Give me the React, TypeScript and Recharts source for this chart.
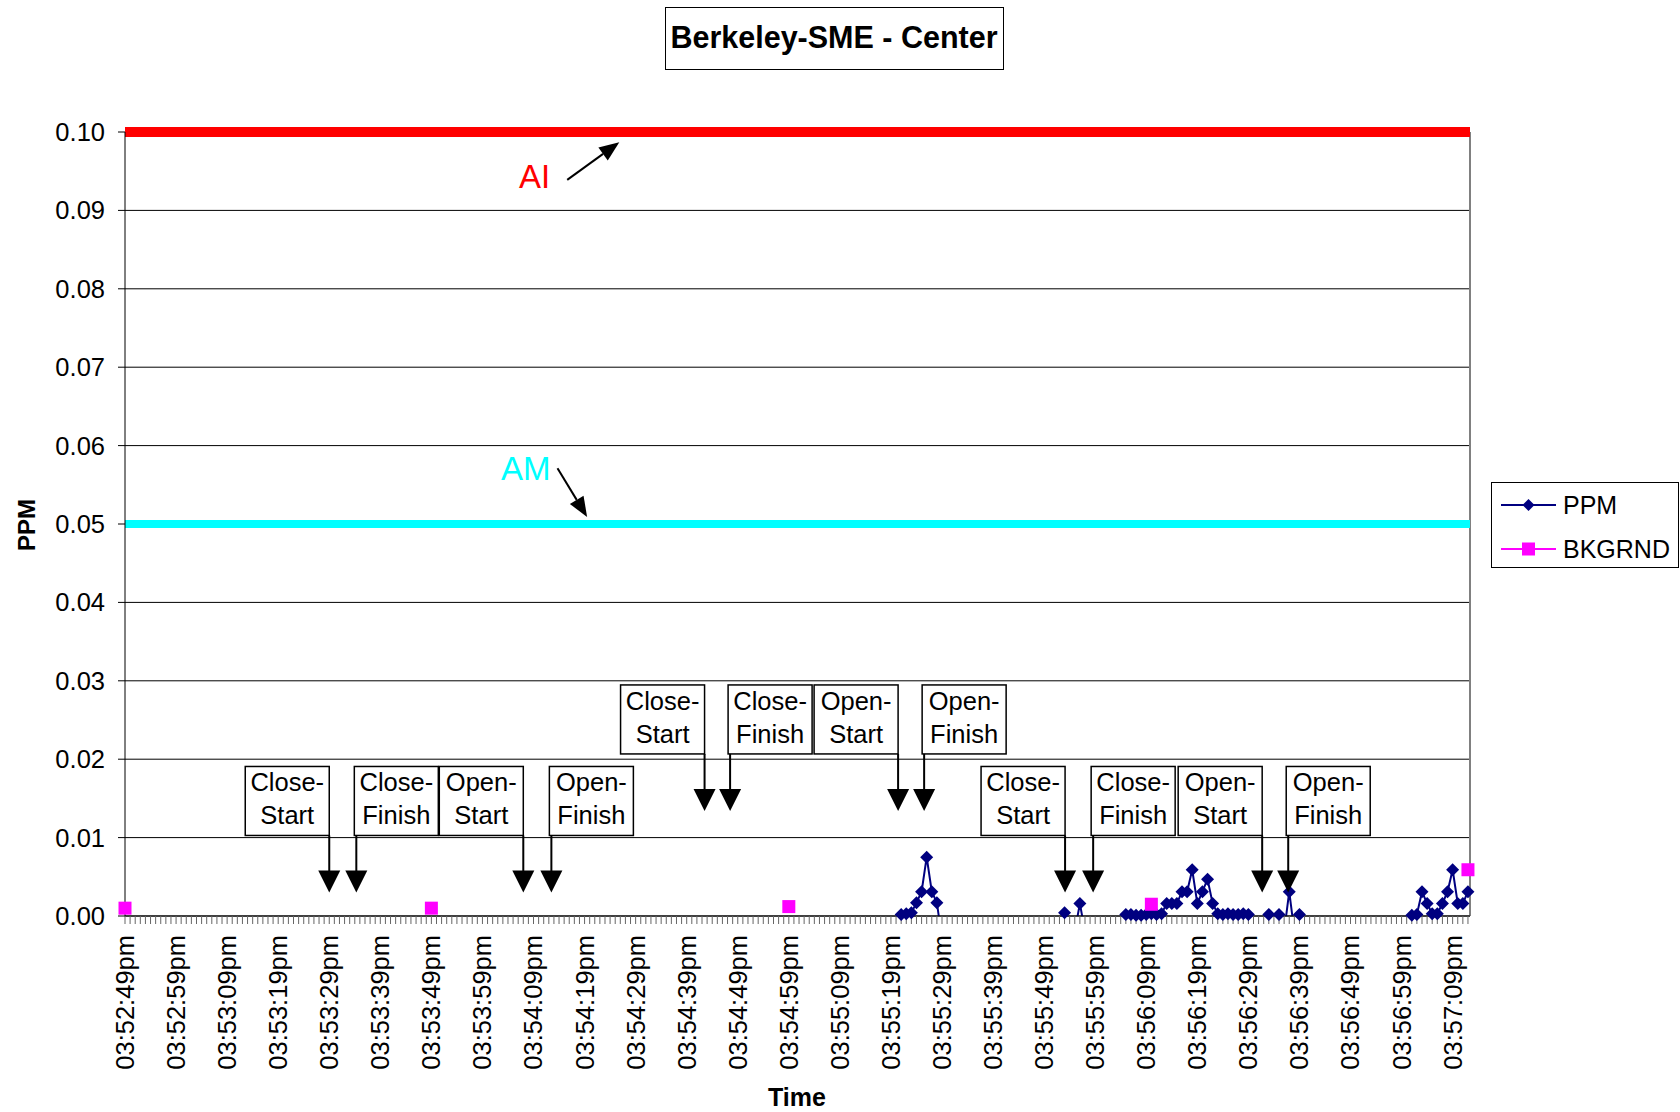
import React from "react";
import {
  LineChart,
  Line,
  XAxis,
  YAxis,
  CartesianGrid,
  ReferenceLine,
  ReferenceDot,
} from "recharts";

const FONT = '"Liberation Sans", Arial, sans-serif';

// one category per second, first one is 03:52:49pm (index 0)
const xTickLabels = [
  "03:52:49pm", "03:52:59pm", "03:53:09pm", "03:53:19pm", "03:53:29pm",
  "03:53:39pm", "03:53:49pm", "03:53:59pm", "03:54:09pm", "03:54:19pm",
  "03:54:29pm", "03:54:39pm", "03:54:49pm", "03:54:59pm", "03:55:09pm",
  "03:55:19pm", "03:55:29pm", "03:55:39pm", "03:55:49pm", "03:55:59pm",
  "03:56:09pm", "03:56:19pm", "03:56:29pm", "03:56:39pm", "03:56:49pm",
  "03:56:59pm", "03:57:09pm",
];
const X_MAX = 263.4;
const yTicks = [0, 0.01, 0.02, 0.03, 0.04, 0.05, 0.06, 0.07, 0.08, 0.09, 0.1];

// PPM readings (seconds from start, ppm); negatives sit below the axis and get clipped
const ppmSeconds = [
  151, 152, 153, 154, 155, 156, 157, 158, 159, 160,
  183, 184, 185, 186, 187, 188,
  195, 196, 197, 198, 199, 200, 201, 202, 203, 204, 205, 206, 207, 208, 209,
  210, 211, 212, 213, 214, 215, 216, 217, 218, 219, 220, 221,
  223, 224, 225, 226, 227, 228, 229, 230, 231,
  251, 252, 253, 254, 255, 256, 257, 258, 259, 260, 261, 262, 263,
];
const ppmValues = [
  -0.002, 0.0002, 0.0003, 0.0004, 0.0017, 0.0031, 0.0075, 0.0031, 0.0017, -0.003,
  -0.002, 0.0004, -0.002, -0.002, 0.0016, -0.002,
  -0.002, 0.0002, 0.0002, 0.0001, 0.0001, 0.0002, 0.0003, 0.0002, 0.0003, 0.0016,
  0.0016, 0.0016, 0.0031, 0.0031, 0.0059,
  0.0016, 0.0031, 0.0047, 0.0016, 0.0003, 0.0002, 0.0003, 0.0002, 0.0002, 0.0003,
  0.0002, -0.002,
  -0.002, 0.0002, -0.002, 0.0002, -0.002, 0.0031, -0.002, 0.0002, -0.002,
  -0.002, 0.0001, 0.0002, 0.0031, 0.0016, 0.0003, 0.0003, 0.0016, 0.0031, 0.0059,
  0.0016, 0.0016, 0.0031,
];

const bkgSeconds = [0, 60, 130, 201, 263];
const bkgValues = [0.001, 0.001, 0.0012, 0.0015, 0.0059];

// reference levels
const AI_LEVEL = 0.1;
const AM_LEVEL = 0.05;

// door events
const eventLabels = [
  "Close-Start", "Close-Finish", "Open-Start", "Open-Finish",
  "Close-Start", "Close-Finish", "Open-Start", "Open-Finish",
  "Close-Start", "Close-Finish", "Open-Start", "Open-Finish",
];
const eventSeconds = [40, 45.3, 78, 83.5, 113.5, 118.5, 151.4, 156.5, 184.1, 189.6, 222.7, 227.8];
const eventRow = [0, 0, 0, 0, 1, 1, 1, 1, 0, 0, 0, 0];
const ROW_TIP = [0.003, 0.0134];

const ppmData = ppmSeconds.map((t, i) => ({ t, v: ppmValues[i] }));
const ppmDots = ppmData.filter((d) => d.v >= 0);
const bkgData = bkgSeconds.map((t, i) => ({ t, v: bkgValues[i] }));
const xTicks = Array.from({ length: 264 }, (_, i) => i);

const diamond = (cx, cy, r) =>
  `M${cx},${cy - r} L${cx + r},${cy} L${cx},${cy + r} L${cx - r},${cy} Z`;

const PpmDot = (p) => {
  if (p.cx == null || p.cy == null) return null;
  return <path key={`p${p.index}`} d={diamond(p.cx, p.cy, 6.5)} fill="#000080" />;
};

const BkgDot = (p) => {
  if (p.cx == null || p.cy == null) return null;
  return <rect key={`b${p.index}`} x={p.cx - 6.5} y={p.cy - 6.5} width={13} height={13} fill="#FF00FF" />;
};

const TimeTick = ({ x, y, payload }) => {
  const v = payload.value;
  if (v % 10 !== 0) return null;
  return (
    <text
      transform={`translate(${x},${y}) rotate(-90)`}
      textAnchor="end"
      dy="0.35em"
      fontSize={25.5}
      fontFamily={FONT}
      fill="#000"
    >
      {xTickLabels[v / 10]}
    </text>
  );
};

const EventMarker = ({ cx, cy, label }) => {
  const cut = label.indexOf("-") + 1;
  const l1 = label.slice(0, cut);
  const l2 = label.slice(cut);
  const isStart = l2 === "Start";
  const w = 84;
  const h = 69;
  const bottom = cy - 57;
  const top = bottom - h;
  const left = isStart ? cx - w : cx - 2;
  const mid = left + w / 2;
  return (
    <g>
      <rect x={left} y={top} width={w} height={h} fill="#fff" stroke="#000" strokeWidth={1.5} />
      <text x={mid} y={top + 25} textAnchor="middle" fontSize={25.5} fontFamily={FONT} fill="#000">{l1}</text>
      <text x={mid} y={top + 58} textAnchor="middle" fontSize={25.5} fontFamily={FONT} fill="#000">{l2}</text>
      <line x1={cx} y1={bottom} x2={cx} y2={cy - 20} stroke="#000" strokeWidth={2} />
      <polygon points={`${cx - 11},${cy - 22} ${cx + 11},${cy - 22} ${cx},${cy}`} fill="#000" />
    </g>
  );
};

const ArrowShape = (p) => {
  const { x1, y1, x2, y2 } = p;
  const a = Math.atan2(y2 - y1, x2 - x1);
  const len = 20;
  const hw = 8;
  const bx = x2 - len * Math.cos(a);
  const by = y2 - len * Math.sin(a);
  const nx = -Math.sin(a);
  const ny = Math.cos(a);
  return (
    <g>
      <line x1={x1} y1={y1} x2={bx} y2={by} stroke="#000" strokeWidth={2} />
      <polygon
        points={`${x2},${y2} ${bx + nx * hw},${by + ny * hw} ${bx - nx * hw},${by - ny * hw}`}
        fill="#000"
      />
    </g>
  );
};

const NoteText = (text, color) => (p) => (
  <text x={p.cx} y={p.cy} textAnchor="middle" fontSize={33} fontFamily={FONT} fill={color}>
    {text}
  </text>
);

export default function App() {
  return (
    <div style={{ position: "absolute", left: 0, top: 0, width: 1680, height: 1112, background: "#fff" }}>
      <LineChart width={1680} height={1112} margin={{ top: 132, right: 210, bottom: 46, left: 65 }}>
        <CartesianGrid vertical={false} stroke="#000" strokeWidth={1} />
        <XAxis
          dataKey="t"
          type="number"
          domain={[0, X_MAX]}
          ticks={xTicks}
          interval={0}
          tickSize={8}
          tickMargin={11}
          tickLine={{ stroke: "#666" }}
          axisLine={{ stroke: "#000" }}
          tick={(props) => <TimeTick {...props} />}
          height={150}
        />
        <YAxis
          type="number"
          domain={[0, 0.1]}
          ticks={yTicks}
          allowDataOverflow
          width={60}
          tickSize={7}
          tickMargin={13}
          tickLine={{ stroke: "#000" }}
          axisLine={{ stroke: "#000" }}
          tickFormatter={(v) => v.toFixed(2)}
          tick={{ fill: "#000", fontSize: 25.5, fontFamily: FONT }}
        />
        <YAxis yAxisId="m" type="number" domain={[0, 0.1]} ticks={yTicks} hide />

        <ReferenceLine x={X_MAX} stroke="#808080" strokeWidth={2} />
        <ReferenceLine y={AM_LEVEL} stroke="#00FFFF" strokeWidth={8} />
        <ReferenceLine y={AI_LEVEL} stroke="#FF0000" strokeWidth={10} />

        <ReferenceDot x={80.2} y={0.0928} r={0} shape={NoteText("AI", "#FF0000")} />
        <ReferenceDot x={78.5} y={0.0556} r={0} shape={NoteText("AM", "#00FFFF")} />
        <ReferenceLine
          segment={[{ x: 86.6, y: 0.0939 }, { x: 96.8, y: 0.0987 }]}
          shape={ArrowShape}
        />
        <ReferenceLine
          segment={[{ x: 84.7, y: 0.0571 }, { x: 90.5, y: 0.0509 }]}
          shape={ArrowShape}
        />

        <Line
          data={ppmData}
          dataKey="v"
          stroke="#000080"
          strokeWidth={2}
          dot={false}
          activeDot={false}
          isAnimationActive={false}
        />
        <Line
          yAxisId="m"
          data={ppmDots}
          dataKey="v"
          stroke="none"
          dot={PpmDot}
          activeDot={false}
          isAnimationActive={false}
        />
        <Line
          yAxisId="m"
          data={bkgData}
          dataKey="v"
          stroke="none"
          dot={BkgDot}
          activeDot={false}
          isAnimationActive={false}
        />

        {eventSeconds.map((t, i) => (
          <ReferenceDot
            key={`ev${i}`}
            x={t}
            y={ROW_TIP[eventRow[i]]}
            r={0}
            shape={(p) => <EventMarker cx={p.cx} cy={p.cy} label={eventLabels[i]} />}
          />
        ))}
      </LineChart>

      <svg
        width={1680}
        height={1112}
        style={{ position: "absolute", left: 0, top: 0, pointerEvents: "none" }}
        fontFamily={FONT}
      >
        {/* title */}
        <rect x={665.5} y={7.5} width={338} height={62} fill="#fff" stroke="#000" strokeWidth={1} />
        <text x={834} y={48} textAnchor="middle" fontSize={30.5} fontWeight="bold" fill="#000">
          Berkeley-SME - Center
        </text>

        {/* axis titles */}
        <text transform="translate(27,525) rotate(-90)" textAnchor="middle" dy="0.35em" fontSize={24} fontWeight="bold">
          PPM
        </text>
        <text x={797} y={1106} textAnchor="middle" fontSize={25} fontWeight="bold">
          Time
        </text>

        {/* legend */}
        <rect x={1491.5} y={482.5} width={187} height={85} fill="#fff" stroke="#000" strokeWidth={1} />
        <line x1={1501} y1={505} x2={1556} y2={505} stroke="#000080" strokeWidth={2} />
        <path d={diamond(1528.5, 505, 6)} fill="#000080" />
        <text x={1563} y={505} dy="0.35em" fontSize={25}>PPM</text>
        <line x1={1501} y1={549} x2={1556} y2={549} stroke="#FF00FF" strokeWidth={2} />
        <rect x={1522} y={542.5} width={13} height={13} fill="#FF00FF" />
        <text x={1563} y={549} dy="0.35em" fontSize={25}>BKGRND</text>
      </svg>
    </div>
  );
}
